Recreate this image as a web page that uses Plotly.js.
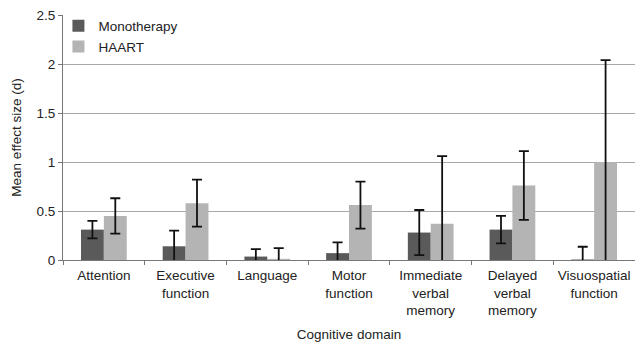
<!DOCTYPE html>
<html>
<head>
<meta charset="utf-8">
<script src="https://cdn.plot.ly/plotly-3.0.1.min.js"></script>
<style>html,body{margin:0;padding:0;background:#fff;}#chart{width:635px;height:343px;}</style>
</head>
<body>
<div id="chart"></div>
<script>
var categories = ["Attention", "Executive<br>function", "Language", "Motor<br>function", "Immediate<br>verbal<br>memory", "Delayed<br>verbal<br>memory", "Visuospatial<br>function"];
var monotherapy = [0.31, 0.14, 0.035, 0.07, 0.28, 0.31, 0.005];
var monotherapyErr = [0.09, 0.16, 0.075, 0.11, 0.23, 0.14, 0.13];
var haart = [0.45, 0.58, 0.012, 0.56, 0.37, 0.76, 1.0];
var haartErr = [0.18, 0.24, 0.11, 0.24, 0.69, 0.35, 1.04];
var yTicks = [0, 0.5, 1, 1.5, 2, 2.5];
var yTickText = ["0", "0.5", "1", "1.5", "2", "2.5"];

var errStyle = {thickness: 1.8, width: 5, color: "#111"};
var traces = [
  {type: "bar", name: "Monotherapy", x: categories, y: monotherapy,
   marker: {color: "#5a5a5a"},
   error_y: Object.assign({type: "data", array: monotherapyErr, visible: true}, errStyle)},
  {type: "bar", name: "HAART", x: categories, y: haart,
   marker: {color: "#b4b4b4"},
   error_y: Object.assign({type: "data", array: haartErr, visible: true}, errStyle)}
];
var layout = {
  width: 635, height: 343,
  margin: {l: 63, r: 0, t: 15, b: 83},
  paper_bgcolor: "#fff", plot_bgcolor: "#fff",
  font: {family: "Liberation Sans, Arial, sans-serif", size: 13.5, color: "#222"},
  barmode: "group", bargap: 0.44, bargroupgap: 0,
  showlegend: true,
  legend: {x: -0.008, y: 1.018, xanchor: "left", yanchor: "top", bgcolor: "rgba(0,0,0,0)",
           font: {size: 13.5, color: "#222"}, tracegroupgap: 15},
  xaxis: {type: "category", tickson: "boundaries", ticks: "outside", ticklen: 4, tickcolor: "#777",
          showline: true, linecolor: "#777", linewidth: 1, showgrid: false,
          ticklabelstandoff: 3,
          tickfont: {size: 13.5, color: "#222"},
          title: {text: "Cognitive domain", font: {size: 13.5, color: "#222"}, standoff: 12}},
  yaxis: {range: [0, 2.5], tickvals: yTicks, ticktext: yTickText, ticks: "outside", ticklen: 4,
          tickcolor: "#777", showline: true, linecolor: "#777", showgrid: true, gridcolor: "#a8a8a8",
          gridwidth: 1, zeroline: false, tickfont: {size: 13.5, color: "#222"},
          title: {text: "Mean effect size (d)", font: {size: 13.5, color: "#222"}, standoff: 11}}
};
Plotly.newPlot("chart", traces, layout, {displayModeBar: false, staticPlot: true});
</script>
</body>
</html>
